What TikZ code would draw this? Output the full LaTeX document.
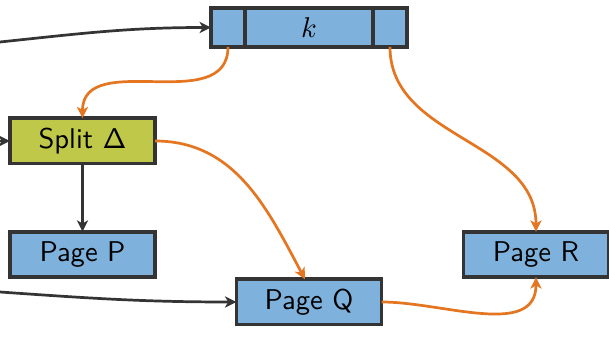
\documentclass[tikz,border=0pt]{standalone}
\usepackage{amsmath}
\usepackage{tikz}
\usetikzlibrary{arrows.meta,positioning}

\definecolor{pageblue}{RGB}{126,178,221}
\definecolor{splitolive}{RGB}{192,200,74}
\definecolor{flowred}{RGB}{228,118,34}
\definecolor{edgegray}{RGB}{52,52,52}

\tikzset{
  box/.style={draw=edgegray,line width=1.25pt,fill=pageblue,inner sep=0pt,outer sep=0pt,
    minimum width=50.8pt,minimum height=15.9pt,font=\sffamily},
  cell/.style={box,minimum height=13.6pt},
  link/.style={draw=edgegray,line width=0.95pt,-{Stealth[length=4pt,width=3.9pt,inset=1.1pt]}},
  move/.style={draw=flowred,line width=0.95pt,-{Stealth[length=4pt,width=3.9pt,inset=1.1pt]}}
}

\begin{document}
\begin{tikzpicture}[x=0.35pt,y=-0.35pt]
  \useasboundingbox (0,0) rectangle (609,352);

  %Shape: key entry, three cells
  \node [cell,minimum width=44.8pt] (kmid) at (309,27.5) {$k$};
  \node [cell,minimum width=11.9pt,left=0pt of kmid] (kleft) {};
  \node [cell,minimum width=11.9pt,right=0pt of kmid] (kright) {};

  %Shape: pages
  \node [box,fill=splitolive] (split) at (82.5,141) {Split $\mathsf{\Delta}$};
  \node [box] (pageP) at (82.5,254.5) {Page P};
  \node [box] (pageQ) at (309,302) {Page Q};
  \node [box] (pageR) at (536,254.5) {Page R};

  % free ends coming in from the left
  \coordinate (inK) at (0,42);
  \coordinate (inSplit) at (0,141);
  \coordinate (inQ) at (0,292);

  %Straight Lines
  \draw [link] (inK) to[out=6,in=180] (kleft.west);
  \draw [link] (inSplit) -- (split.west);
  \draw [link] (inQ) to[out=-4,in=180] (pageQ.west);
  \draw [link] (split.south) -- (pageP.north);

  %Curves
  \draw [move] (kleft.south) to[out=-90,in=90,looseness=1.1] (split.north);
  \draw [move] (kright.south) to[out=-90,in=90] (pageR.north);
  \draw [move] (split.east) to[out=0,in=118] ([xshift=-1.4pt]pageQ.north);
  \draw [move] (pageQ.east) to[out=0,in=-90] (pageR.south);

\end{tikzpicture}
\end{document}
